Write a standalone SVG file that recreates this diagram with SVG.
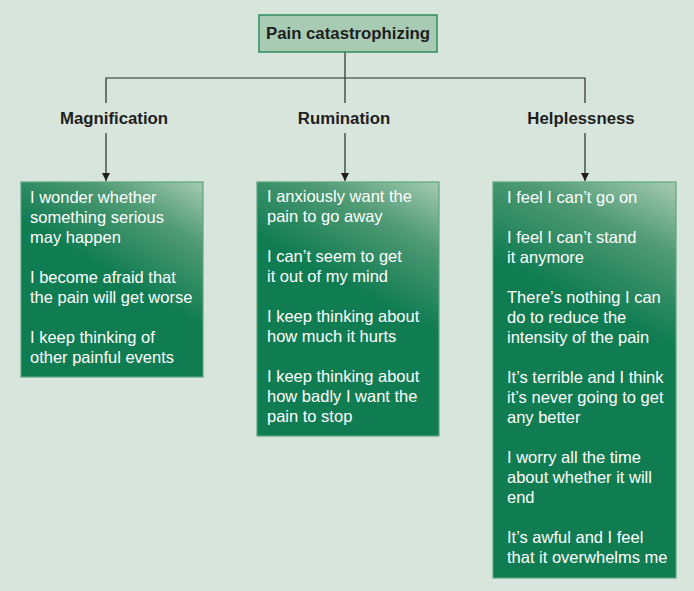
<svg xmlns="http://www.w3.org/2000/svg" width="694" height="591" viewBox="0 0 694 591">
<style>
.conn{stroke:#2a2a2a;stroke-width:1.2;fill:none}
.lbl{font-family:"Liberation Sans",Arial,sans-serif;font-weight:bold;font-size:16.8px;fill:#1e1e1e;text-anchor:middle}
.txt{font-family:"Liberation Sans",Arial,sans-serif;font-size:16.5px;fill:#ffffff}
.box{stroke:#5aa67e;stroke-width:1.2}
</style>
<defs>
<marker id="ah" viewBox="0 0 10 10" refX="10" refY="5" markerWidth="8" markerHeight="8" markerUnits="userSpaceOnUse" orient="auto">
<path d="M0,0 L10,5 L0,10 z" fill="#1e1e1e"/>
</marker>
<linearGradient id="g1" gradientUnits="userSpaceOnUse" x1="203" y1="182" x2="140" y2="290">
<stop offset="0" stop-color="#a6cbb3"/><stop offset="0.45" stop-color="#4f9a74"/><stop offset="1" stop-color="#107c52"/>
</linearGradient>
<linearGradient id="g2" gradientUnits="userSpaceOnUse" x1="439" y1="182" x2="376" y2="300">
<stop offset="0" stop-color="#a6cbb3"/><stop offset="0.45" stop-color="#4f9a74"/><stop offset="1" stop-color="#107c52"/>
</linearGradient>
<linearGradient id="g3" gradientUnits="userSpaceOnUse" x1="676" y1="182" x2="610" y2="315">
<stop offset="0" stop-color="#a6cbb3"/><stop offset="0.45" stop-color="#4f9a74"/><stop offset="1" stop-color="#107c52"/>
</linearGradient>
</defs>
<rect width="694" height="591" fill="#d8e5dd"/>
<g id="connectors">
<path class="conn" d="M345,52 V103"/>
<path class="conn" d="M106,103 V78 H585 V103"/>
<path class="conn" d="M106,133 V181" marker-end="url(#ah)"/>
<path class="conn" d="M345,133 V181" marker-end="url(#ah)"/>
<path class="conn" d="M585,133 V181" marker-end="url(#ah)"/>
</g>
<g id="root">
<rect x="259" y="15" width="178" height="37" fill="#a8cbb4" stroke="#2f8c5c" stroke-width="1.5"/>
<text class="lbl" x="348" y="39" font-size="16.9">Pain catastrophizing</text>
</g>
<g id="magnification">
<text class="lbl" x="114" y="124">Magnification</text>
<rect class="box" x="21" y="182" width="182" height="195" fill="url(#g1)"/>
<text class="txt"><tspan x="30" y="203">I wonder whether</tspan><tspan x="30" y="223">something serious</tspan><tspan x="30" y="243">may happen</tspan><tspan x="30" y="283">I become afraid that</tspan><tspan x="30" y="303">the pain will get worse</tspan><tspan x="30" y="343">I keep thinking of</tspan><tspan x="30" y="363">other painful events</tspan></text>
</g>
<g id="rumination">
<text class="lbl" x="344" y="124">Rumination</text>
<rect class="box" x="257" y="182" width="182" height="254" fill="url(#g2)"/>
<text class="txt"><tspan x="267" y="202">I anxiously want the</tspan><tspan x="267" y="222">pain to go away</tspan><tspan x="267" y="262">I can’t seem to get</tspan><tspan x="267" y="282">it out of my mind</tspan><tspan x="267" y="322">I keep thinking about</tspan><tspan x="267" y="342">how much it hurts</tspan><tspan x="267" y="382">I keep thinking about</tspan><tspan x="267" y="402">how badly I want the</tspan><tspan x="267" y="422">pain to stop</tspan></text>
</g>
<g id="helplessness">
<text class="lbl" x="581" y="124">Helplessness</text>
<rect class="box" x="493" y="182" width="183" height="396" fill="url(#g3)"/>
<text class="txt"><tspan x="507" y="203">I feel I can’t go on</tspan><tspan x="507" y="243">I feel I can’t stand</tspan><tspan x="507" y="263">it anymore</tspan><tspan x="507" y="303">There’s nothing I can</tspan><tspan x="507" y="323">do to reduce the</tspan><tspan x="507" y="343">intensity of the pain</tspan><tspan x="507" y="383">It’s terrible and I think</tspan><tspan x="507" y="403">it’s never going to get</tspan><tspan x="507" y="423">any better</tspan><tspan x="507" y="463">I worry all the time</tspan><tspan x="507" y="483">about whether it will</tspan><tspan x="507" y="503">end</tspan><tspan x="507" y="543">It’s awful and I feel</tspan><tspan x="507" y="563">that it overwhelms me</tspan></text>
</g>
</svg>
